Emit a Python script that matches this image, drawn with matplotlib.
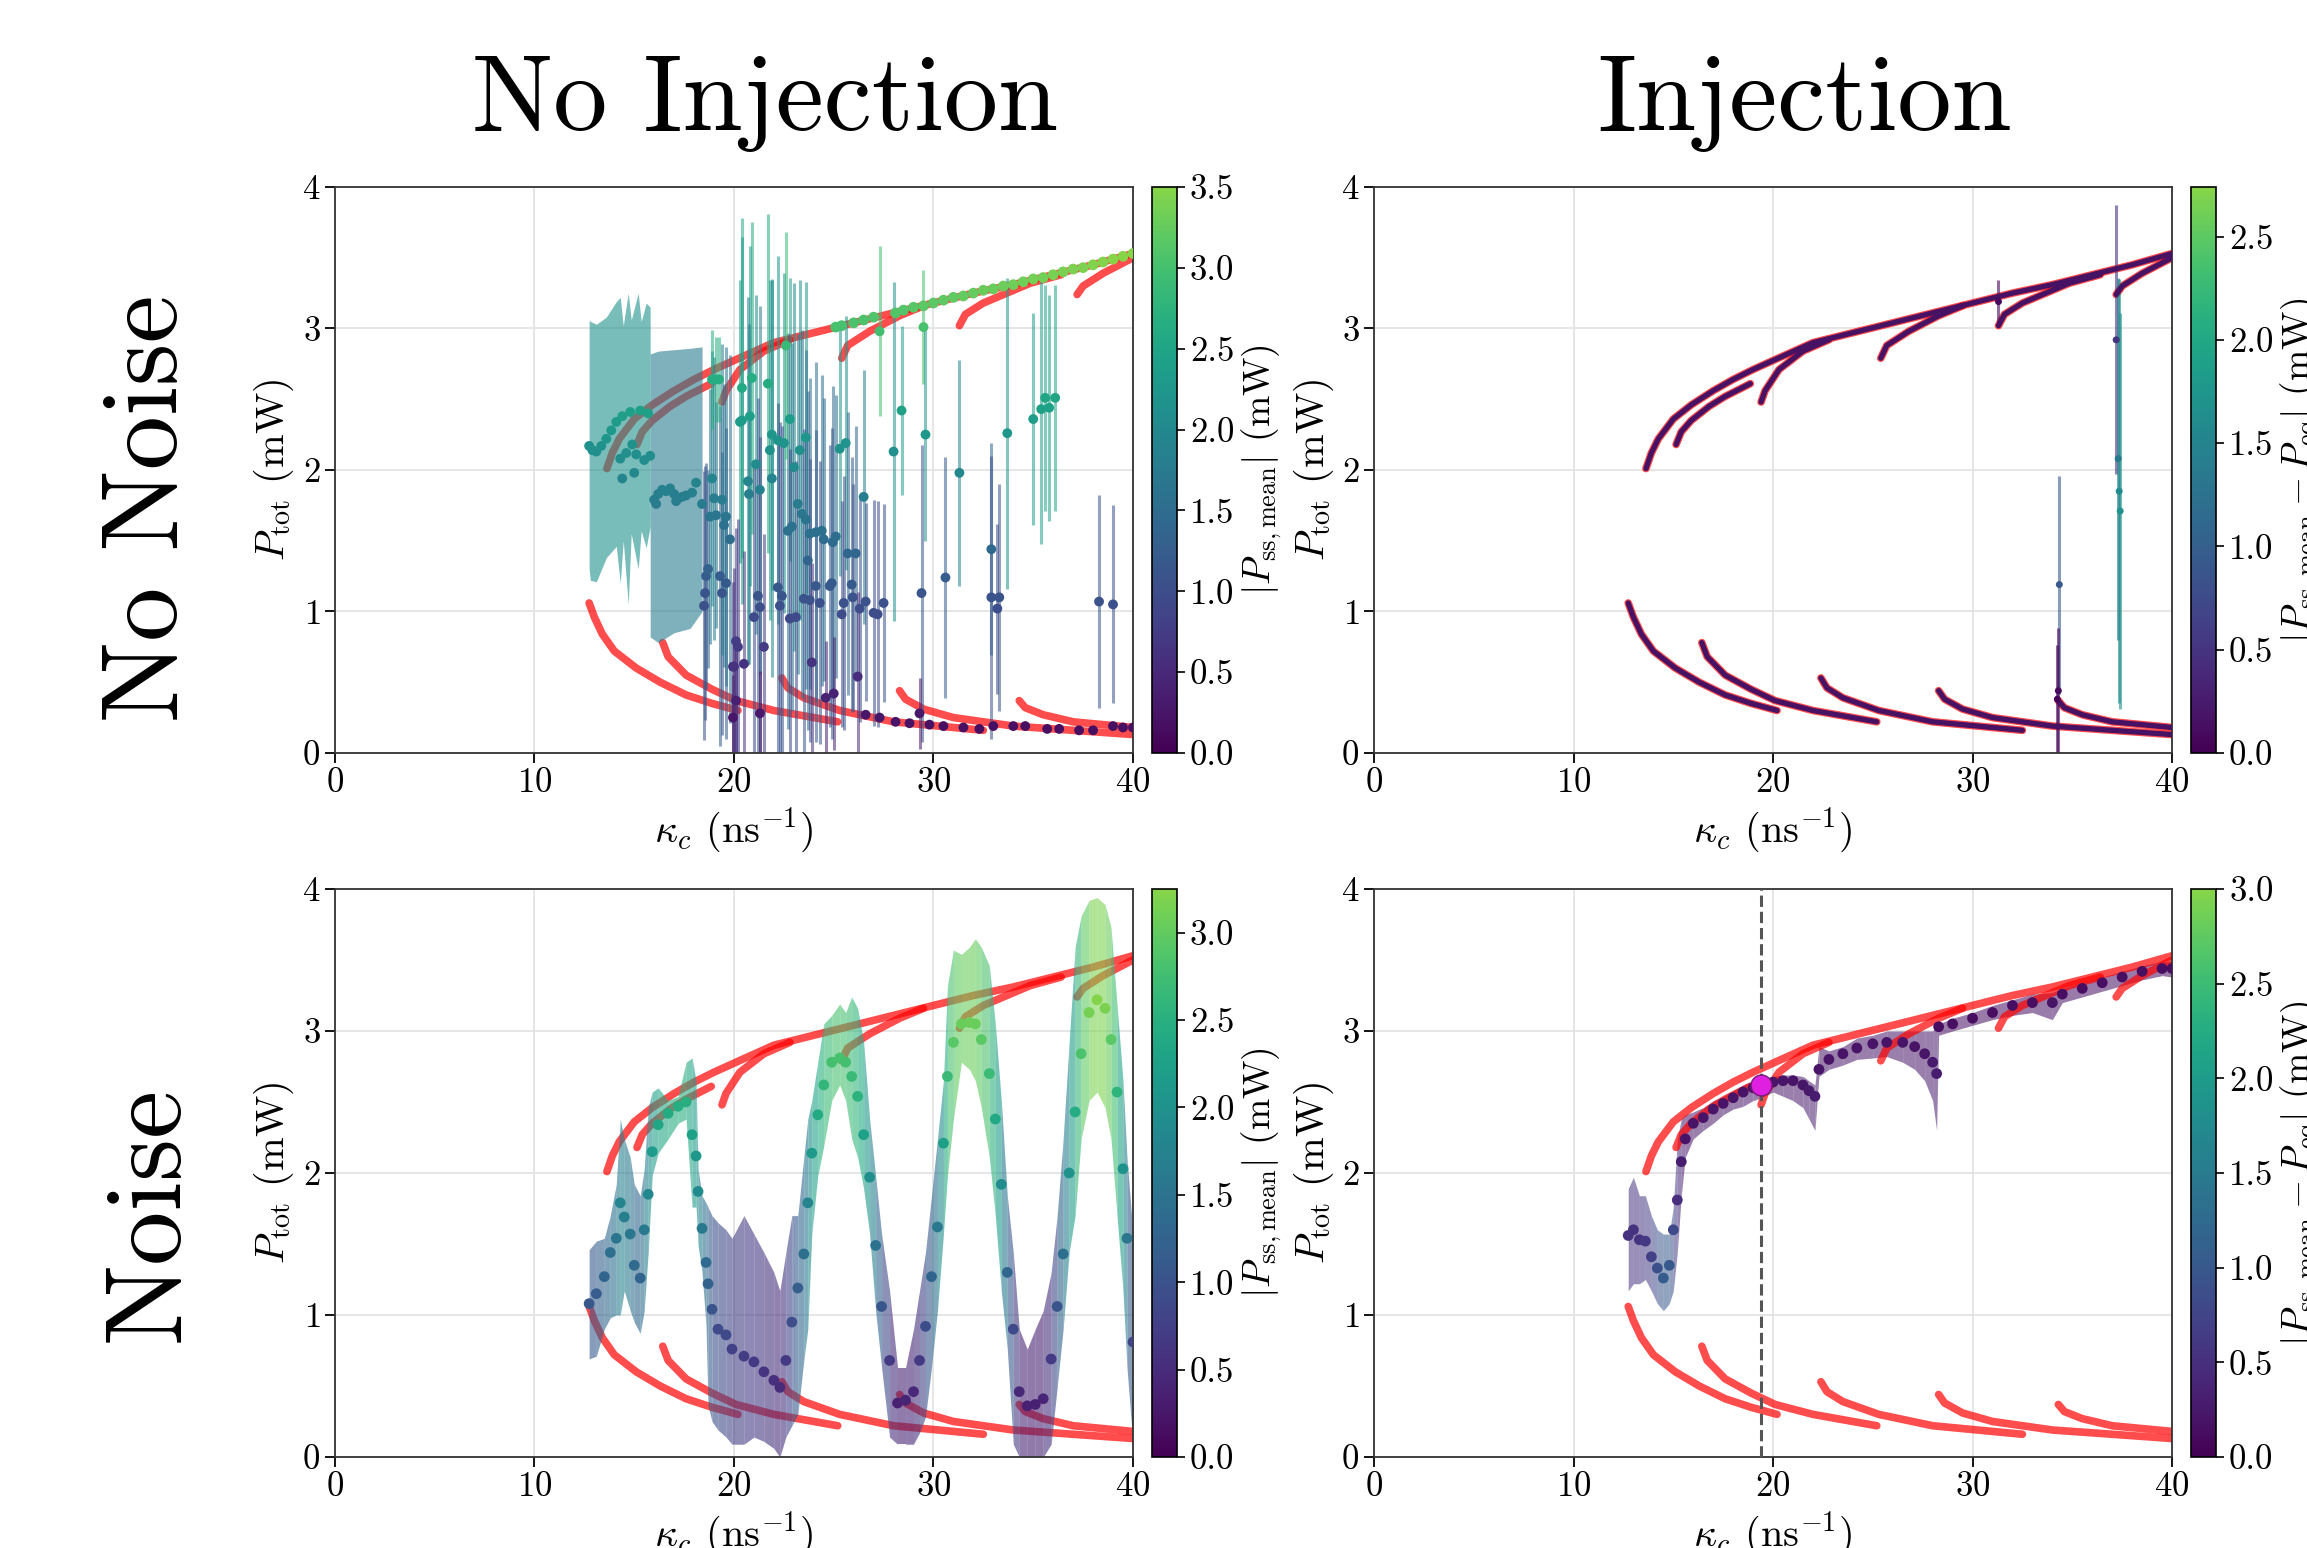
import numpy as np
import matplotlib
matplotlib.use("Agg")
from matplotlib import pyplot as plt
from matplotlib import cm, colors

plt.rcParams['font.family'] = 'cmr10'
plt.rcParams['mathtext.fontset'] = 'cm'
plt.rcParams['axes.formatter.use_mathtext'] = True
plt.rcParams['axes.unicode_minus'] = False
plt.rcParams['xtick.labelsize'] = 25
plt.rcParams['ytick.labelsize'] = 25
plt.rcParams['axes.labelsize'] = 29

# ---- equilibrium branches (red) ----
u1_x = [13.63, 13.9, 14.25, 15.0, 15.9, 17.0, 18.0, 19.0, 20.1, 22.0, 24.0, 26.0, 28.0, 30.0, 32.0, 34.0, 36.0, 38.0, 40.0]
u1_y = [2.01, 2.12, 2.22, 2.36, 2.46, 2.56, 2.64, 2.71, 2.78, 2.90, 2.97, 3.04, 3.11, 3.18, 3.25, 3.31, 3.38, 3.45, 3.53]
u2_x = [15.14, 15.4, 15.9, 16.8, 17.6, 18.86]
u2_y = [2.18, 2.27, 2.35, 2.45, 2.52, 2.61]
u3_x = [19.4, 19.6, 20.3, 21.5, 22.8]
u3_y = [2.48, 2.56, 2.71, 2.84, 2.92]
u4_x = [25.4, 25.7, 26.8, 28.3, 29.5]
u4_y = [2.79, 2.88, 2.98, 3.09, 3.16]
u5_x = [31.3, 31.6, 32.5, 34.85, 36.4]
u5_y = [3.02, 3.10, 3.18, 3.32, 3.38]
u6_x = [37.2, 37.5, 38.5, 40.0]
u6_y = [3.24, 3.30, 3.39, 3.50]
l1_x = [12.74, 13.0, 13.4, 14.0, 15.1, 16.3, 17.6, 18.9, 20.2]
l1_y = [1.06, 0.96, 0.84, 0.72, 0.60, 0.50, 0.41, 0.35, 0.30]
l2_x = [16.43, 16.7, 17.6, 18.9, 20.1, 22.0, 25.2]
l2_y = [0.78, 0.68, 0.55, 0.45, 0.37, 0.30, 0.22]
l3_x = [22.4, 22.7, 23.5, 25.3, 28.0, 32.5]
l3_y = [0.53, 0.46, 0.39, 0.30, 0.22, 0.16]
l4_x = [28.3, 28.6, 29.5, 31.0, 34.0, 40.0]
l4_y = [0.44, 0.38, 0.31, 0.25, 0.19, 0.13]
l5_x = [34.3, 34.6, 35.5, 37.0, 40.0]
l5_y = [0.37, 0.32, 0.27, 0.22, 0.18]
branches = [(u1_x, u1_y), (u2_x, u2_y), (u3_x, u3_y), (u4_x, u4_y), (u5_x, u5_y), (u6_x, u6_y),
            (l1_x, l1_y), (l2_x, l2_y), (l3_x, l3_y), (l4_x, l4_y), (l5_x, l5_y)]

# ---- No injection, no noise ----
# dense band of error bars at low kappa
tl_bandA_x = [12.74, 12.8, 13.1, 13.6, 14.1, 14.3, 14.45, 14.7, 14.85, 15.2, 15.35, 15.6, 15.8]
tl_bandA_hi = [3.06, 3.05, 3.03, 3.08, 3.19, 3.22, 3.02, 3.25, 3.06, 3.25, 3.05, 3.18, 3.15]
tl_bandA_lo = [1.30, 1.22, 1.21, 1.38, 1.46, 1.20, 1.50, 1.05, 1.55, 1.30, 1.57, 1.45, 1.60]
tl_bandB_x = [15.8, 16.2, 17.0, 17.8, 18.4]
tl_bandB_hi = [2.82, 2.84, 2.85, 2.86, 2.87]
tl_bandB_lo = [0.82, 0.78, 0.85, 0.88, 1.00]
tl_band_dot_x = [12.74, 12.9, 13.1, 13.35, 13.6, 13.85, 14.1, 14.4, 14.8, 15.3, 15.7, 14.3, 14.4, 14.6, 14.9, 15.1, 15.0, 15.5, 15.8,
                 16.0, 16.2, 16.4, 16.6, 16.8, 17.0, 17.2, 17.4, 17.6, 17.9, 18.1, 18.4, 16.1, 17.1]
tl_band_dot_y = [2.17, 2.14, 2.13, 2.17, 2.22, 2.28, 2.34, 2.38, 2.41, 2.42, 2.40, 2.08, 1.94, 2.12, 2.18, 2.11, 1.98, 2.07, 2.10,
                 1.79, 1.83, 1.86, 1.85, 1.87, 1.83, 1.80, 1.81, 1.82, 1.84, 1.91, 1.76, 1.76, 1.78]
# scattered points with their error bars
tl_x = [18.5, 18.55, 18.6, 18.7, 18.8, 18.9, 19.0, 19.1, 19.3, 19.4, 19.4, 19.5, 19.6, 19.6, 19.8, 18.9, 19.1, 19.25,
        20.1, 19.95, 20.1, 19.95, 20.3,
        20.4, 20.9, 20.4, 20.8, 21.7, 20.7, 21.1, 20.75, 21.3, 21.9, 21.8, 21.9, 22.2, 22.8, 22.5, 23.6, 23.3, 23.0,
        23.2, 23.4, 23.6, 22.7, 22.9, 23.8, 24.1, 24.4, 24.5, 24.95, 25.1, 25.3, 25.6, 26.5, 23.7, 25.7, 26.1,
        22.2, 22.4, 21.2, 21.3, 21.0, 22.3, 22.8, 23.1, 23.5, 23.8, 24.1, 24.3, 24.8, 24.9, 25.5, 25.9, 25.95,
        26.3, 26.6, 27.0, 27.2, 27.5, 25.4, 21.5, 20.2, 20.0, 20.5, 23.9, 26.2, 24.6, 25.0, 21.3,
        27.3, 29.5, 28.0, 28.4, 29.6, 29.4, 30.6, 31.3, 32.9, 32.9, 33.3, 33.2, 33.7, 35.0, 35.4, 35.6, 35.8,
        36.1, 38.3, 39.0, 29.3, 22.6]
tl_y = [1.04, 1.13, 1.25, 1.30, 1.67, 1.94, 1.80, 1.68, 1.25, 1.13, 1.79, 1.61, 1.20, 1.67, 1.51, 2.64, 2.64, 2.64,
        0.79, 0.61, 0.37, 0.25, 2.34,
        2.58, 2.65, 2.35, 2.38, 2.61, 1.92, 2.04, 1.83, 1.86, 1.94, 2.14, 2.25, 2.21, 2.36, 2.19, 2.23, 2.14, 2.02,
        1.76, 1.69, 1.65, 1.57, 1.60, 1.55, 1.56, 1.57, 1.51, 1.49, 1.53, 2.15, 2.19, 1.81, 1.36, 1.41, 1.41,
        1.17, 1.11, 1.11, 1.03, 0.96, 1.04, 0.95, 0.96, 1.09, 1.08, 1.18, 1.06, 1.18, 1.20, 1.06, 1.19, 1.10,
        1.02, 1.07, 0.99, 0.98, 1.06, 0.98, 0.75, 0.75, 0.61, 0.63, 0.64, 0.54, 0.39, 0.42, 0.28,
        2.98, 3.01, 2.13, 2.42, 2.25, 1.13, 1.24, 1.98, 1.44, 1.10, 1.10, 1.02, 2.26, 2.36, 2.43, 2.51, 2.44,
        2.51, 1.07, 1.05, 0.28, 2.88]
tl_err = [0.95, 0.9, 0.8, 0.7, 0.9, 0.9, 1.0, 0.8, 1.2, 1.0, 1.1, 1.0, 1.1, 1.2, 1.3, 0.35, 0.3, 0.3,
          0.8, 0.6, 0.4, 0.3, 1.0,
          1.2, 1.1, 1.3, 1.2, 1.2, 1.3, 1.2, 1.2, 1.3, 1.4, 1.2, 1.1, 1.3, 1.0, 1.2, 1.1, 1.2, 1.3,
          1.2, 1.3, 1.2, 1.4, 1.3, 1.1, 1.2, 1.1, 1.0, 1.1, 1.0, 0.9, 0.9, 0.9, 1.2, 1.0, 0.9,
          1.3, 1.2, 1.4, 1.2, 1.1, 1.3, 1.2, 1.1, 1.2, 1.0, 1.1, 1.0, 1.0, 1.1, 0.9, 0.9, 0.8,
          0.8, 0.7, 0.8, 0.8, 0.7, 0.8, 0.8, 0.9, 0.7, 0.8, 0.7, 0.6, 0.4, 0.4, 0.3,
          0.6, 0.4, 1.2, 0.6, 0.75, 1.05, 0.85, 0.8, 0.75, 1.0, 0.8, 0.6, 1.1, 0.75, 0.95, 0.8, 0.8,
          0.8, 0.75, 0.7, 0.25, 0.8]
# points sitting on the equilibria
tl_up_x = [25.1, 25.4, 26.0, 26.5, 27.0, 28.1, 28.5, 29.0, 29.5, 30.0, 30.5, 31.0, 31.5, 32.0, 32.5, 33.0, 33.5,
           34.0, 34.5, 35.0, 35.5, 36.0, 36.5, 37.0, 37.5, 38.0, 38.5, 39.0, 39.5, 40.0]
tl_up_y = [3.01, 3.02, 3.04, 3.06, 3.08, 3.11, 3.13, 3.15, 3.16, 3.18, 3.20, 3.22, 3.23, 3.25, 3.27, 3.28, 3.30,
           3.31, 3.33, 3.35, 3.36, 3.38, 3.40, 3.42, 3.43, 3.45, 3.47, 3.49, 3.51, 3.53]
tl_low_x = [26.6, 27.3, 28.1, 28.8, 29.8, 30.5, 31.5, 32.3, 33.0, 34.0, 34.6, 35.7, 36.3, 37.3, 38.0, 39.0, 39.5, 40.0]
tl_low_y = [0.27, 0.25, 0.22, 0.21, 0.20, 0.19, 0.18, 0.17, 0.19, 0.19, 0.19, 0.17, 0.17, 0.16, 0.16, 0.19, 0.18, 0.18]

# ---- Injection, no noise: the few points off the equilibria ----
tr_x = [31.3, 34.35, 34.3, 34.25, 37.2, 37.3, 37.35, 37.4]
tr_y = [3.19, 1.19, 0.44, 0.38, 2.92, 2.08, 1.85, 1.71]
tr_err = [0.15, 0.77, 0.44, 0.38, 0.95, 1.28, 1.50, 1.40]
tr_dev = [0.1, 0.95, 0.1, 0.05, 0.5, 1.35, 1.6, 1.7]

# ---- No injection, noise ----
bl_x = [12.74, 13.1, 13.5, 13.8, 14.1, 14.3, 14.5, 14.8, 15.0, 15.3, 15.5, 15.7, 15.9, 16.2, 16.7, 17.2, 17.6,
        17.9, 18.1, 18.2, 18.4, 18.6, 18.7, 18.9, 19.2, 19.6, 19.9, 20.5, 21.0, 21.5, 22.0, 22.3, 22.6, 22.9,
        23.2, 23.5, 23.7, 23.9, 24.2, 24.5, 24.9, 25.3, 25.6, 25.9, 26.2, 26.5, 26.8, 27.1, 27.4, 27.8, 28.2,
        28.6, 29.0, 29.3, 29.6, 29.9, 30.2, 30.5, 30.7, 31.0, 31.4, 31.8, 32.1, 32.4, 32.8, 33.1, 33.4, 33.7,
        34.0, 34.3, 34.7, 35.1, 35.5, 35.9, 36.2, 36.5, 36.8, 37.1, 37.4, 37.8, 38.2, 38.6, 38.9, 39.2, 39.5,
        39.7, 40.0]
bl_mean = [1.08, 1.15, 1.27, 1.44, 1.54, 1.79, 1.69, 1.57, 1.35, 1.26, 1.60, 1.85, 2.15, 2.34, 2.42, 2.47, 2.50,
           2.27, 2.12, 1.87, 1.61, 1.37, 1.22, 1.04, 0.90, 0.86, 0.76, 0.71, 0.67, 0.60, 0.54, 0.49, 0.68, 0.95,
           1.19, 1.43, 1.79, 2.14, 2.41, 2.62, 2.78, 2.81, 2.78, 2.68, 2.54, 2.27, 1.97, 1.49, 1.06, 0.68, 0.38,
           0.40, 0.46, 0.68, 0.92, 1.27, 1.62, 2.21, 2.68, 2.92, 3.05, 3.06, 3.05, 2.94, 2.70, 2.38, 1.92, 1.30,
           0.90, 0.46, 0.36, 0.37, 0.41, 0.69, 1.06, 1.43, 2.00, 2.43, 2.84, 3.13, 3.22, 3.16, 2.94, 2.57, 2.03,
           1.54, 0.81]
bl_lo = [0.69, 0.71, 0.90, 0.98, 1.00, 1.00, 1.17, 1.03, 0.95, 0.87, 1.03, 1.44, 1.98, 2.14, 2.24, 2.35, 2.38,
         1.76, 1.76, 1.49, 1.30, 0.92, 0.36, 0.25, 0.19, 0.14, 0.09, 0.09, 0.14, 0.11, 0.06, 0.00, 0.14, 0.22,
         0.30, 0.68, 0.90, 1.57, 1.98, 2.19, 2.51, 2.62, 2.51, 2.24, 2.11, 1.89, 1.57, 1.03, 0.63, 0.14, 0.09,
         0.09, 0.09, 0.17, 0.28, 0.63, 1.03, 1.57, 1.98, 2.38, 2.78, 2.73, 2.65, 2.46, 2.11, 1.70, 1.17, 0.76,
         0.09, 0.00, 0.00, 0.00, 0.00, 0.09, 0.49, 0.90, 1.44, 1.70, 2.24, 2.51, 2.57, 2.46, 2.24, 1.70, 1.17,
         0.63, 0.09]
bl_hi = [1.46, 1.52, 1.54, 1.70, 1.92, 2.38, 2.24, 2.11, 1.92, 1.84, 2.03, 2.46, 2.57, 2.60, 2.51, 2.54, 2.78,
         2.81, 2.65, 2.03, 1.84, 1.79, 1.76, 1.70, 1.65, 1.60, 1.54, 1.70, 1.57, 1.44, 1.30, 1.17, 1.44, 1.70,
         1.70, 2.11, 2.38, 2.51, 2.78, 3.05, 3.11, 3.19, 3.13, 3.24, 3.16, 2.92, 2.38, 1.98, 1.57, 1.17, 0.63,
         0.63, 0.90, 1.17, 1.44, 1.84, 2.24, 2.65, 3.32, 3.57, 3.54, 3.59, 3.65, 3.59, 3.46, 3.05, 2.51, 1.84,
         1.44, 0.90, 0.76, 0.90, 1.03, 1.30, 1.70, 2.24, 2.92, 3.59, 3.81, 3.92, 3.94, 3.89, 3.73, 3.19, 2.65,
         2.11, 1.57]

# ---- Injection, noise ----
br_x = [12.74, 13.0, 13.3, 13.6, 13.9, 14.2, 14.5, 14.8, 15.0, 15.2, 15.4, 15.6, 16.0, 16.5, 17.0, 17.5, 18.0,
        18.5, 19.0, 19.4, 20.0, 20.5, 21.0, 21.5, 21.8, 22.1, 22.3, 22.8, 23.5, 24.2, 25.0, 25.7, 26.5, 27.1,
        27.6, 28.0, 28.2, 28.3, 29.0, 30.0, 31.0, 32.0, 33.0, 34.0, 34.5, 35.5, 36.5, 37.5, 38.5, 39.5, 40.0]
br_mean = [1.56, 1.60, 1.53, 1.52, 1.41, 1.33, 1.26, 1.35, 1.60, 1.81, 2.08, 2.24, 2.35, 2.39, 2.45, 2.49, 2.53,
           2.57, 2.60, 2.62, 2.64, 2.65, 2.65, 2.62, 2.58, 2.54, 2.73, 2.80, 2.84, 2.88, 2.91, 2.92, 2.92, 2.89,
           2.84, 2.78, 2.70, 3.03, 3.05, 3.09, 3.13, 3.18, 3.20, 3.20, 3.26, 3.30, 3.34, 3.38, 3.42, 3.44, 3.44]
br_lo = [1.17, 1.22, 1.22, 1.25, 1.17, 1.08, 1.03, 1.08, 1.17, 1.44, 1.84, 2.11, 2.24, 2.30, 2.35, 2.41, 2.45,
         2.47, 2.51, 2.53, 2.57, 2.54, 2.51, 2.46, 2.38, 2.30, 2.68, 2.73, 2.76, 2.80, 2.81, 2.82, 2.78, 2.73,
         2.65, 2.51, 2.30, 2.97, 3.00, 3.04, 3.08, 3.11, 3.13, 3.08, 3.20, 3.24, 3.28, 3.32, 3.36, 3.39, 3.38]
br_hi = [1.89, 1.97, 1.84, 1.84, 1.70, 1.60, 1.57, 1.57, 1.76, 2.24, 2.38, 2.41, 2.43, 2.46, 2.51, 2.54, 2.58,
         2.62, 2.65, 2.66, 2.68, 2.69, 2.69, 2.68, 2.65, 2.62, 2.89, 2.86, 2.89, 2.95, 2.97, 3.00, 3.00, 3.00,
         3.00, 3.00, 3.03, 3.05, 3.09, 3.13, 3.18, 3.22, 3.26, 3.27, 3.30, 3.34, 3.38, 3.42, 3.46, 3.49, 3.49]
br_dev = [0.55, 0.55, 0.55, 0.6, 0.7, 0.9, 1.05, 1.0, 0.8, 0.5, 0.3, 0.2, 0.2, 0.2, 0.2, 0.2, 0.2,
          0.2, 0.2, 0.2, 0.2, 0.2, 0.2, 0.22, 0.25, 0.3, 0.2, 0.2, 0.2, 0.2, 0.2, 0.2, 0.2, 0.2,
          0.22, 0.25, 0.3, 0.15, 0.15, 0.15, 0.15, 0.15, 0.15, 0.18, 0.15, 0.15, 0.15, 0.15, 0.15, 0.15, 0.15]
marker_k = 19.4
marker_p = 2.62

# viridis that stops at green, as in the colour bars
cmap = colors.ListedColormap(plt.get_cmap('viridis')(np.linspace(0.0, 0.82, 256)))


def setup_axes(ax):
    ax.set_xlim(0, 40)
    ax.set_ylim(0, 4)
    ax.set_xticks([0, 10, 20, 30, 40])
    ax.set_yticks([0, 1, 2, 3, 4])
    ax.grid(True, color='#e4e4e4', lw=1.3)
    ax.set_axisbelow(True)
    ax.tick_params(direction='out', length=7, width=1.3)
    for s in ax.spines.values():
        s.set_linewidth(1.3)
        s.set_color('#333333')
    ax.set_xlabel(r'$\kappa_c$ (ns$^{-1}$)')
    ax.set_ylabel(r'$P_{\rm tot}$ (mW)')


def draw_equilibria(ax, z):
    for bx, by in branches:
        ax.plot(bx, by, color='red', lw=5.5, alpha=0.7, solid_capstyle='round', zorder=z)


def colored_band(ax, x, lo, hi, vals, norm, alpha, z):
    for i in range(len(x) - 1):
        c = cmap(norm(0.5 * (vals[i] + vals[i + 1])))
        ax.fill_between(x[i:i + 2], lo[i:i + 2], hi[i:i + 2], color=c, alpha=alpha, lw=0, zorder=z)


def add_cbar(cax, norm, ticks, label):
    cb = fig.colorbar(cm.ScalarMappable(norm=norm, cmap=cmap), cax=cax)
    cb.set_ticks(ticks)
    cb.ax.set_yticklabels(["%.1f" % t for t in ticks])
    cb.ax.tick_params(labelsize=25, length=6, width=1.2)
    cb.outline.set_linewidth(1.2)
    cb.set_label(label, fontsize=27)


fig = plt.figure(figsize=(23.07, 15.48), dpi=100)
ax_tl = fig.add_axes([0.1452, 0.5136, 0.3459, 0.3656])
ax_tr = fig.add_axes([0.5956, 0.5136, 0.3459, 0.3656])
ax_bl = fig.add_axes([0.1452, 0.0588, 0.3459, 0.3669])
ax_br = fig.add_axes([0.5956, 0.0588, 0.3459, 0.3669])
cax_tl = fig.add_axes([0.4993, 0.5136, 0.0108, 0.3656])
cax_tr = fig.add_axes([0.9497, 0.5136, 0.0108, 0.3656])
cax_bl = fig.add_axes([0.4993, 0.0588, 0.0108, 0.3669])
cax_br = fig.add_axes([0.9497, 0.0588, 0.0108, 0.3669])

# top left
norm_tl = colors.Normalize(0, 3.5)
setup_axes(ax_tl)
draw_equilibria(ax_tl, 1)
ax_tl.fill_between(tl_bandA_x, tl_bandA_lo, tl_bandA_hi, color=cmap(norm_tl(2.15)), alpha=0.6, lw=0, zorder=2)
ax_tl.fill_between(tl_bandB_x, tl_bandB_lo, tl_bandB_hi, color=cmap(norm_tl(1.8)), alpha=0.6, lw=0, zorder=2)
tl_col = cmap(norm_tl(np.array(tl_y)))
ax_tl.vlines(tl_x, np.array(tl_y) - np.array(tl_err), np.array(tl_y) + np.array(tl_err),
             colors=tl_col, alpha=0.55, lw=2.2, zorder=2)
ax_tl.scatter(tl_band_dot_x, tl_band_dot_y, c=tl_band_dot_y, cmap=cmap, norm=norm_tl, s=50, lw=0, zorder=3)
ax_tl.scatter(tl_x, tl_y, c=tl_y, cmap=cmap, norm=norm_tl, s=50, lw=0, zorder=3)
ax_tl.scatter(tl_up_x, tl_up_y, c=tl_up_y, cmap=cmap, norm=norm_tl, s=60, lw=0, zorder=3)
ax_tl.scatter(tl_low_x, tl_low_y, c=tl_low_y, cmap=cmap, norm=norm_tl, s=50, lw=0, zorder=3)
add_cbar(cax_tl, norm_tl, [0.0, 0.5, 1.0, 1.5, 2.0, 2.5, 3.0, 3.5], r'$|P_{\rm ss,mean}|$ (mW)')

# top right
norm_tr = colors.Normalize(0, 2.74)
setup_axes(ax_tr)
draw_equilibria(ax_tr, 1)
for bx, by in branches:
    ax_tr.plot(bx, by, color=cmap(norm_tr(0.15)), lw=3.8, solid_capstyle='round', zorder=3)
tr_col = cmap(norm_tr(np.array(tr_dev)))
ax_tr.vlines(tr_x, np.array(tr_y) - np.array(tr_err), np.array(tr_y) + np.array(tr_err),
             colors=tr_col, alpha=0.6, lw=2.2, zorder=2)
ax_tr.scatter(tr_x, tr_y, c=tr_dev, cmap=cmap, norm=norm_tr, s=25, lw=0, zorder=4)
add_cbar(cax_tr, norm_tr, [0.0, 0.5, 1.0, 1.5, 2.0, 2.5], r'$|P_{\rm ss,mean} - P_{\rm eq}|$ (mW)')

# bottom left
norm_bl = colors.Normalize(0, 3.25)
setup_axes(ax_bl)
draw_equilibria(ax_bl, 1)
colored_band(ax_bl, bl_x, bl_lo, bl_hi, bl_mean, norm_bl, 0.6, 2)
ax_bl.scatter(bl_x, bl_mean, c=bl_mean, cmap=cmap, norm=norm_bl, s=60, lw=0, zorder=3)
add_cbar(cax_bl, norm_bl, [0.0, 0.5, 1.0, 1.5, 2.0, 2.5, 3.0], r'$|P_{\rm ss,mean}|$ (mW)')

# bottom right
norm_br = colors.Normalize(0, 3.0)
setup_axes(ax_br)
colored_band(ax_br, br_x, br_lo, br_hi, br_dev, norm_br, 0.55, 2)
draw_equilibria(ax_br, 2.5)
ax_br.scatter(br_x, br_mean, c=br_dev, cmap=cmap, norm=norm_br, s=60, lw=0, zorder=3)
ax_br.axvline(marker_k, color='#555555', ls='--', lw=2.2, zorder=4)
ax_br.plot([marker_k], [marker_p], 'o', color='#e020e0', mec='#7a1a7a', mew=1, ms=15, zorder=5)
add_cbar(cax_br, norm_br, [0.0, 0.5, 1.0, 1.5, 2.0, 2.5, 3.0], r'$|P_{\rm ss,mean} - P_{\rm eq}|$ (mW)')

# row and column headings
fig.text(0.3316, 0.916, 'No Injection', fontsize=78, ha='center', va='baseline')
fig.text(0.782, 0.916, 'Injection', fontsize=78, ha='center', va='baseline')
fig.text(0.065, 0.672, 'No Noise', fontsize=78, rotation=90, ha='center', va='center')
fig.text(0.065, 0.216, 'Noise', fontsize=78, rotation=90, ha='center', va='center')

plt.savefig('out.png', dpi=100)
